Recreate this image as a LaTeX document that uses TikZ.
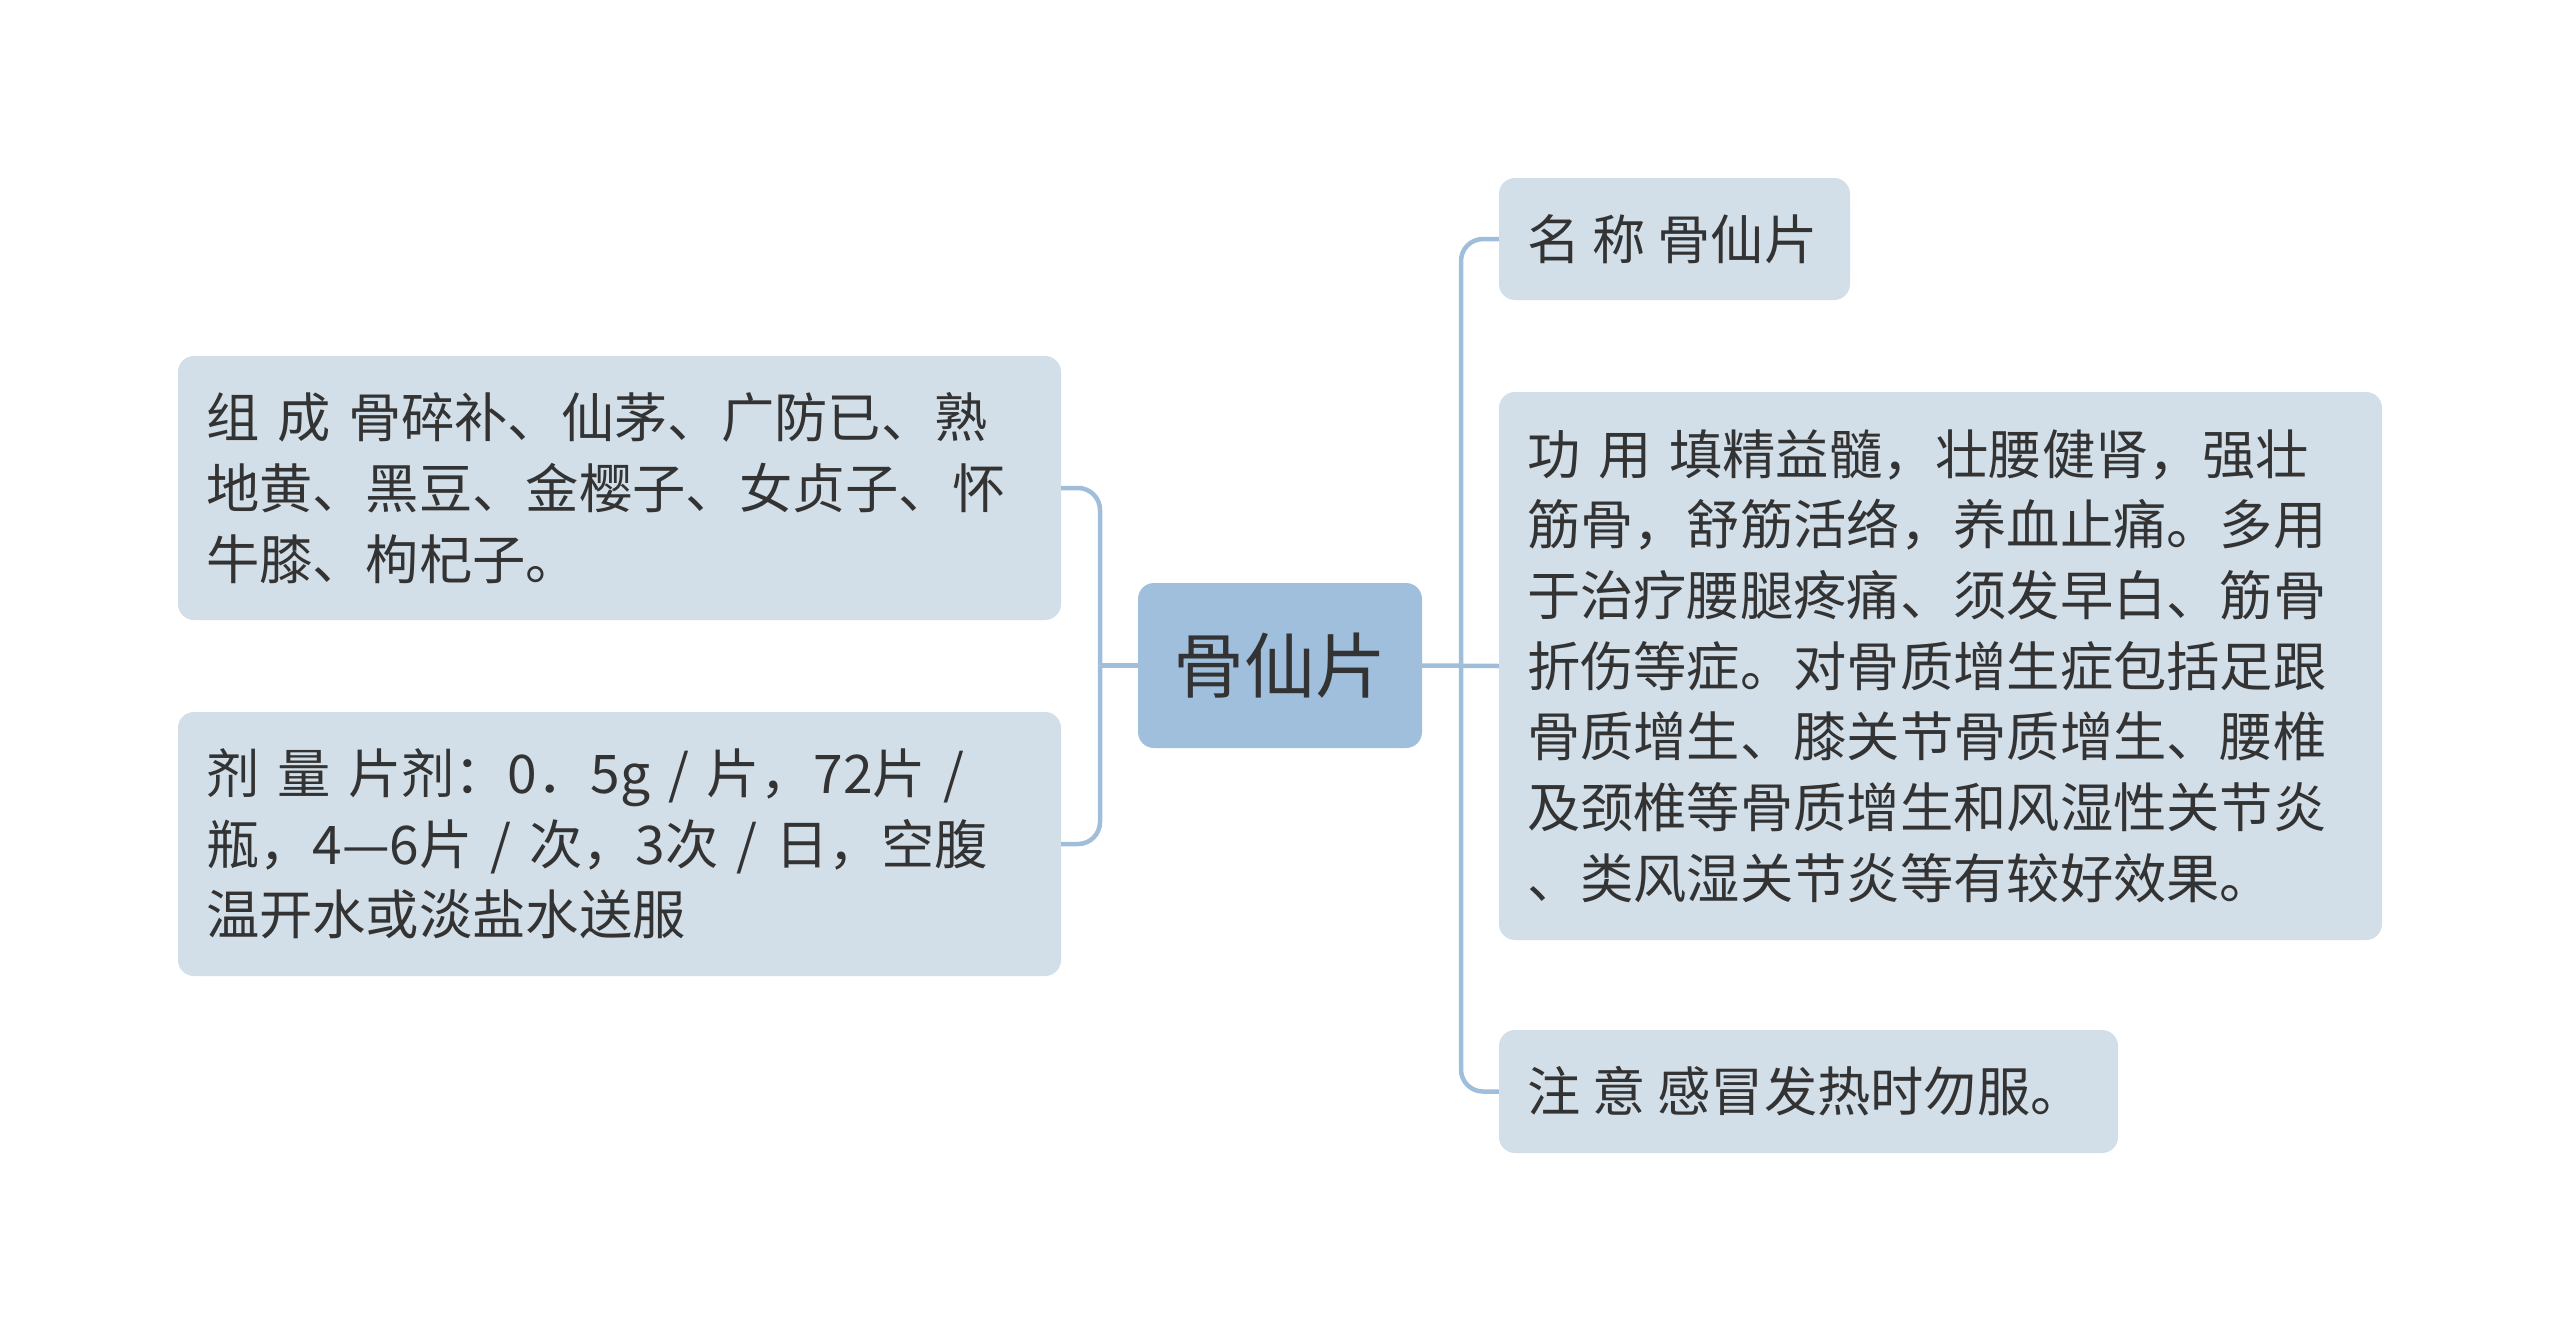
\documentclass[tikz,border=0pt]{standalone}
\usepackage{fontspec}
\setmainfont{Noto Sans CJK SC}
\definecolor{boxfill}{HTML}{D3DFE8}
\definecolor{rootfill}{HTML}{9FBFDC}
\definecolor{linecol}{HTML}{A0BEDB}
\definecolor{txt}{HTML}{333333}
\begin{document}
\begin{tikzpicture}[x=1pt,y=-1pt,
  leaf/.style={draw=none,fill=boxfill,rounded corners=16pt,text=txt,align=left,inner sep=0pt,
    font=\fontsize{53.3}{70.7}\selectfont},
  root/.style={fill=rootfill,rounded corners=16pt,text=txt,inner sep=0pt,
    minimum width=284pt,minimum height=165pt,font=\fontsize{71}{80}\selectfont},
  conn/.style={draw=linecol,line width=4.5pt,rounded corners=22pt}]
\useasboundingbox (0,0) rectangle (2560,1333);
\fill[white] (0,0) rectangle (2560,1333);
\node[root] (c) at (1280,665.5) {骨仙片};
\node[leaf,minimum width=883pt,minimum height=264pt,text width=827pt] (l1) at (619.5,488)
 {组 成 骨碎补、仙茅、广防已、熟\\地黄、黑豆、金樱子、女贞子、怀\\牛膝、枸杞子。};
\node[leaf,minimum width=883pt,minimum height=264pt,text width=827pt] (l2) at (619.5,844)
 {剂 量 片剂：0．5g / 片，72片 /\\瓶，4—6片 / 次，3次 / 日，空腹\\温开水或淡盐水送服};
\node[leaf,minimum width=351pt,minimum height=122pt] (r1) at (1674.5,239)
 {\makebox[295pt][l]{名 称 骨仙片}};
\node[leaf,minimum width=883pt,minimum height=548pt,text width=827pt] (r2) at (1940.5,666)
 {功 用 填精益髓，壮腰健肾，强壮\\筋骨，舒筋活络，养血止痛。多用\\于治疗腰腿疼痛、须发早白、筋骨\\折伤等症。对骨质增生症包括足跟\\骨质增生、膝关节骨质增生、腰椎\\及颈椎等骨质增生和风湿性关节炎\\、类风湿关节炎等有较好效果。};
\node[leaf,minimum width=619pt,minimum height=123pt] (r3) at (1808.5,1091.5)
 {\makebox[563pt][l]{注 意 感冒发热时勿服。}};
\coordinate (busL) at (1100,665.5);
\coordinate (busR) at (1461,665.5);
\draw[conn] (c.west) -- (busL);
\draw[conn] (l1.east) -| (busL);
\draw[conn] (l2.east) -| (busL);
\draw[conn] (c.east) -- (r2.west);
\draw[conn] (r1.west) -| (busR);
\draw[conn] (r3.west) -| (busR);
\end{tikzpicture}
\end{document}
